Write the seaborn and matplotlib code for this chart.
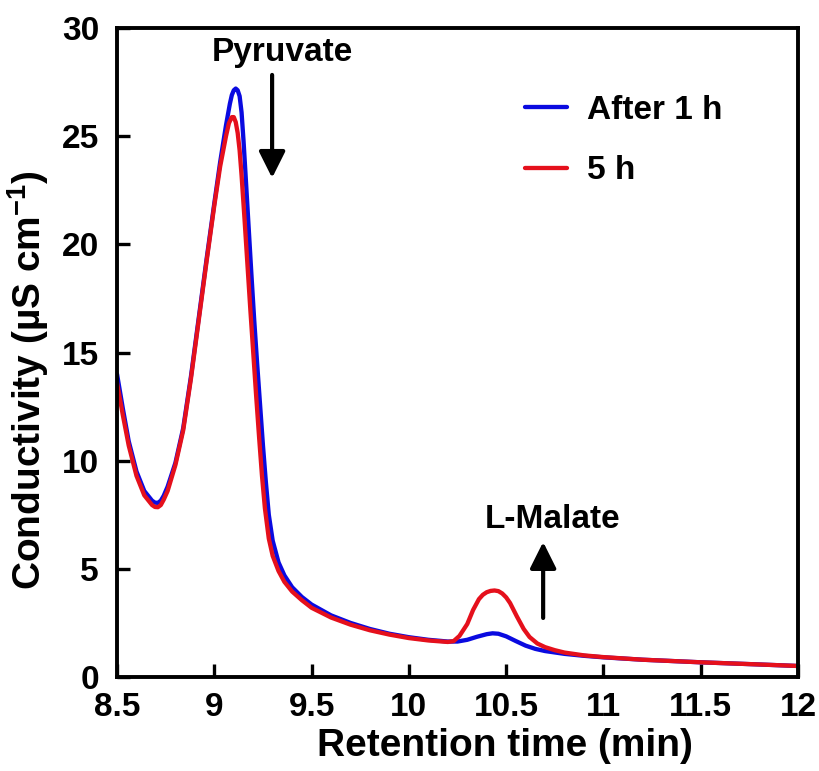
import numpy as np
import pandas as pd
import seaborn as sns
import matplotlib.pyplot as plt

# values
t_1h = [8.50, 8.53, 8.56, 8.60, 8.64, 8.68, 8.695, 8.71, 8.725, 8.74, 8.76, 8.80, 8.84,
        8.88, 8.92, 8.96, 9.00, 9.03, 9.06, 9.08, 9.09, 9.10, 9.11, 9.12, 9.13, 9.14,
        9.15, 9.16, 9.175, 9.19, 9.205, 9.22, 9.235, 9.25, 9.265, 9.28, 9.30, 9.33, 9.36,
        9.40, 9.45, 9.50, 9.60, 9.70, 9.80, 9.90, 10.00, 10.10, 10.20, 10.25, 10.30,
        10.35, 10.40, 10.43, 10.46, 10.50, 10.55, 10.60, 10.65, 10.70, 10.80, 10.90,
        11.00, 11.20, 11.50, 11.80, 12.00]
c_1h = [14.0, 12.4, 10.9, 9.5, 8.6, 8.15, 8.06, 8.05, 8.15, 8.38, 8.8, 9.9, 11.5,
        13.9, 16.6, 19.3, 21.9, 23.8, 25.5, 26.5, 26.9, 27.12, 27.2, 27.12, 26.85, 26.1,
        24.8, 23.3, 21.0, 18.7, 16.5, 14.5, 12.6, 10.7, 9.0, 7.5, 6.3, 5.3, 4.7,
        4.15, 3.7, 3.35, 2.85, 2.5, 2.22, 2.0, 1.84, 1.72, 1.64, 1.64, 1.72,
        1.86, 1.98, 2.02, 2.0, 1.88, 1.66, 1.45, 1.3, 1.2, 1.07, 0.98,
        0.91, 0.8, 0.68, 0.58, 0.51]

t_5h = [8.50, 8.53, 8.56, 8.60, 8.64, 8.68, 8.695, 8.71, 8.725, 8.74, 8.76, 8.80, 8.84,
        8.88, 8.92, 8.96, 9.00, 9.03, 9.06, 9.075, 9.09, 9.10, 9.11, 9.12, 9.13, 9.14,
        9.155, 9.17, 9.185, 9.20, 9.215, 9.23, 9.245, 9.26, 9.28, 9.30, 9.33, 9.36, 9.40,
        9.45, 9.50, 9.60, 9.70, 9.80, 9.90, 10.00, 10.10, 10.20, 10.23, 10.26, 10.30,
        10.33, 10.36, 10.38, 10.40, 10.42, 10.44, 10.46, 10.48, 10.50, 10.52, 10.555,
        10.59, 10.62, 10.66, 10.70, 10.75, 10.80, 10.90, 11.00, 11.20, 11.50, 11.80, 12.00]
c_5h = [13.6, 12.1, 10.7, 9.3, 8.4, 7.95, 7.86, 7.85, 7.95, 8.2, 8.6, 9.8, 11.4,
        13.8, 16.5, 19.2, 21.8, 23.6, 25.0, 25.6, 25.88, 25.88, 25.65, 25.15, 24.35, 23.2,
        21.2, 19.1, 17.0, 15.0, 13.0, 11.1, 9.3, 7.8, 6.4, 5.6, 4.9, 4.4, 3.95,
        3.55, 3.2, 2.75, 2.42, 2.16, 1.96, 1.8, 1.69, 1.62, 1.66, 1.9, 2.45,
        3.1, 3.6, 3.8, 3.92, 3.98, 4.0, 3.97, 3.86, 3.68, 3.42, 2.8,
        2.22, 1.85, 1.55, 1.38, 1.24, 1.13, 1.0, 0.92, 0.8, 0.68, 0.58, 0.51]

series = ['After 1 h', '5 h']
colors = ['#0a0ae0', '#e5101c']
xticks = [8.5, 9, 9.5, 10, 10.5, 11, 11.5, 12]
xticklabels = ['8.5', '9', '9.5', '10', '10.5', '11', '11.5', '12']
yticks = [0, 5, 10, 15, 20, 25, 30]

df = pd.concat([
    pd.DataFrame({'time': t_1h, 'cond': c_1h, 'sample': series[0]}),
    pd.DataFrame({'time': t_5h, 'cond': c_5h, 'sample': series[1]}),
])

sns.set_style('ticks')
plt.rcParams['font.family'] = ['Liberation Sans', 'DejaVu Sans']
plt.rcParams['font.weight'] = 'bold'
plt.rcParams['mathtext.fontset'] = 'custom'
plt.rcParams['mathtext.bf'] = 'Liberation Sans:bold'
plt.rcParams['mathtext.rm'] = 'Liberation Sans:bold'
for key in ['text.color', 'axes.labelcolor', 'xtick.color', 'ytick.color', 'axes.edgecolor']:
    plt.rcParams[key] = 'black'

fig = plt.figure(figsize=(8.19, 7.71), dpi=100)
ax = fig.add_axes([0.1429, 0.1219, 0.8315, 0.8418])

sns.lineplot(data=df, x='time', y='cond', hue='sample', hue_order=series,
             palette=colors, sort=False, estimator=None, lw=3.1, ax=ax)

ax.set_xlim(8.5, 12)
ax.set_ylim(0, 30)
ax.set_xticks(xticks)
ax.set_xticklabels(xticklabels)
ax.set_yticks(yticks)
ax.tick_params(direction='in', length=9.5, width=2.4, labelsize=24, pad=13,
               colors='black')
ax.tick_params(axis='x', pad=11)
for s in ax.spines.values():
    s.set_linewidth(2.8)
    s.set_color('black')

ax.set_xlabel('Retention time (min)', fontsize=28, fontweight='bold', color='black')
ax.set_ylabel('Conductivity (µS cm$^{\\mathbf{-1}}$)', fontsize=28, fontweight='bold',
              color='black')
ax.xaxis.set_label_coords(0.57, -0.078)
ax.yaxis.set_label_coords(-0.097, 0.458)

leg = ax.get_legend()
handles = leg.legend_handles
labels = [t.get_text() for t in leg.get_texts()]
ax.legend(handles, labels, loc='upper left', bbox_to_anchor=(0.599, 0.897),
          frameon=False, fontsize=24, handlelength=1.25, handletextpad=0.6,
          labelspacing=0.88, borderpad=0, borderaxespad=0, labelcolor='black')

arrow = dict(arrowstyle='-|>,head_length=0.4,head_width=0.2', lw=3, color='black',
             mutation_scale=40, shrinkA=0, shrinkB=0)
ax.annotate('', xy=(9.297, 23.07), xytext=(9.297, 27.83), arrowprops=arrow)
ax.annotate('', xy=(10.69, 6.24), xytext=(10.69, 2.73), arrowprops=arrow)
ax.text(9.35, 28.85, 'Pyruvate', fontsize=24, fontweight='bold', ha='center', va='center',
        color='black')
ax.text(10.74, 7.26, 'L-Malate', fontsize=24, fontweight='bold', ha='center', va='center',
        color='black')

fig.savefig('out.png', dpi=100)
